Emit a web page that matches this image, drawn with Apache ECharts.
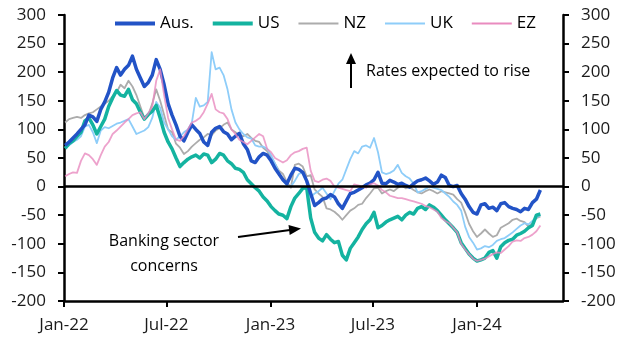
<!DOCTYPE html>
<html>
<head>
<meta charset="utf-8">
<script src="https://cdn.jsdelivr.net/npm/echarts@6/dist/echarts.min.js"></script>
<style>
  html, body { margin: 0; padding: 0; background: #fff; }
  #chart { width: 631px; height: 350px; }
</style>
</head>
<body>
<div id="chart"></div>
<script>
// weekly readings, first week starts 3 Jan 2022
const firstWeek = '2022-01-03'
const weekCount = 121

const aus = [72, 78, 85, 92, 100, 108, 125, 122, 114, 135, 148, 165, 190, 208, 195, 205, 212, 228, 205, 190,
  175, 182, 195, 222, 205, 178, 145, 125, 108, 88, 80, 95, 108, 100, 93, 78, 72, 95, 102, 105,
  96, 92, 82, 88, 93, 75, 65, 45, 42, 52, 58, 55, 45, 32, 22, 12, 5, 20, 32, 30,
  25, 10, -12, -33, -28, -22, -20, -14, -18, -30, -38, -25, -12, -10, -6, -2, 3, 6, 12, 25,
  6, 5, 11, 8, 4, 6, 2, -1, 5, 10, 12, 15, 10, 4, 8, 20, 16, 2, 0, 2,
  -12, -22, -35, -45, -48, -32, -30, -38, -36, -42, -30, -28, -35, -38, -40, -44, -38, -40, -28, -22, -6]

const us = [67, 75, 80, 88, 95, 115, 120, 108, 92, 105, 118, 140, 155, 168, 160, 158, 170, 152, 145, 130,
  118, 126, 132, 142, 120, 95, 78, 66, 50, 35, 42, 48, 52, 55, 50, 57, 55, 42, 48, 58,
  55, 45, 40, 32, 30, 25, 12, 5, -2, -8, -18, -25, -35, -42, -48, -50, -56, -35, -20, -12,
  -3, -2, -55, -80, -90, -95, -84, -92, -98, -96, -120, -128, -108, -98, -88, -75, -65, -58, -45, -72,
  -68, -62, -58, -55, -52, -58, -50, -45, -48, -38, -35, -40, -32, -36, -42, -50, -58, -65, -72, -80,
  -98, -108, -118, -125, -130, -128, -125, -115, -112, -125, -105, -98, -94, -92, -85, -82, -78, -72, -68, -50, -48]

const nz = [112, 118, 120, 122, 120, 125, 128, 130, 135, 140, 145, 150, 158, 165, 178, 172, 185, 175, 160, 140,
  120, 125, 145, 170, 150, 125, 100, 95, 75, 68, 57, 62, 70, 76, 82, 86, 92, 90, 98, 102,
  108, 112, 100, 95, 90, 88, 92, 85, 80, 78, 68, 62, 52, 40, 28, 22, 8, -2, 38, 40,
  35, 18, 20, -5, -12, -18, -38, -40, -44, -50, -58, -50, -42, -38, -32, -30, -20, -12, -3, -2,
  -12, -8, -5, -8, -2, 2, -3, -1, -6, -10, -12, -8, -5, -8, -12, -8, -10, -12, -14, -22,
  -28, -45, -65, -78, -88, -82, -75, -82, -88, -85, -72, -68, -64, -58, -56, -60, -62, -70, -64, -55, -52]

const uk = [68, 72, 78, 82, 88, 105, 108, 95, 76, 98, 104, 102, 106, 110, 112, 115, 118, 105, 92, 95,
  98, 104, 120, 148, 138, 112, 100, 88, 82, 88, 95, 100, 112, 155, 140, 142, 148, 235, 205, 208,
  195, 170, 135, 112, 100, 92, 86, 84, 72, 70, 70, 66, 55, 40, 25, 10, 2, 0, 10, 22,
  25, 8, -18, -12, -8, -2, -12, -22, -8, 5, 12, 30, 48, 62, 58, 70, 72, 68, 85, 60,
  25, 22, 24, 28, 38, 24, 18, 14, 5, -10, -8, -4, 0, -2, -4, -6, -12, -18, -26, -32,
  -42, -70, -88, -98, -110, -108, -104, -106, -102, -95, -92, -90, -85, -80, -74, -68, -64, -66, -60, -54, -50]

const ez = [18, 22, 25, 24, 45, 58, 55, 48, 38, 55, 70, 78, 92, 98, 105, 112, 118, 125, 128, 130,
  118, 128, 140, 185, 205, 160, 120, 100, 82, 80, 88, 100, 112, 115, 120, 130, 145, 162, 135, 130,
  128, 118, 100, 92, 82, 78, 74, 80, 86, 92, 88, 66, 60, 50, 46, 42, 46, 55, 60, 62,
  66, 68, 28, 10, 8, 12, 14, 10, 0, -2, -4, -6, -8, 4, 2, 0, -2, 4, 6, 2,
  -6, -10, -16, -18, -20, -20, -22, -24, -26, -28, -30, -34, -36, -40, -44, -55, -60, -64, -72, -80,
  -100, -110, -118, -126, -130, -128, -126, -122, -118, -115, -116, -110, -104, -96, -94, -95, -90, -88, -84, -78, -68]

const xTickDates = ['2022-01-01', '2022-07-01', '2023-01-01', '2023-07-01', '2024-01-01']
const monthNames = ['Jan', 'Feb', 'Mar', 'Apr', 'May', 'Jun', 'Jul', 'Aug', 'Sep', 'Oct', 'Nov', 'Dec']

const FONT = 'Open Sans'
const THICK = 'path://M0,0h40v4h-40z'
const THIN = 'path://M0,0h40v1.8h-40z'

// local-time date helper
function toTime(str) {
  const p = str.split('-').map(Number)
  return new Date(p[0], p[1] - 1, p[2]).getTime()
}

const weeks = []
for (let i = 0; i < weekCount; i++) {
  const d = new Date(toTime(firstWeek))
  d.setDate(d.getDate() + i * 7)
  weeks.push(d.getTime())
}
const pairs = (vals) => vals.map((v, i) => [weeks[i], v])

const chart = echarts.init(document.getElementById('chart'))

const yAxisBase = {
  type: 'value',
  min: -200,
  max: 300,
  interval: 50,
  splitLine: { show: false },
  axisLine: { show: true, lineStyle: { color: '#000', width: 2.5 } },
  axisTick: { show: true, length: 6, lineStyle: { color: '#000', width: 2 } },
  axisLabel: { color: '#1a1a1a', fontSize: 17, fontFamily: FONT, margin: 18 }
}

const lineSeries = (name, data, color, width, opacity) => ({
  name,
  type: 'line',
  data: pairs(data),
  showSymbol: false,
  symbol: 'none',
  silent: true,
  lineStyle: { color, width, opacity: opacity || 1, join: 'round' },
  itemStyle: { color }
})

const colors = {
  aus: '#2253c6',
  us: '#14b3a0',
  nz: '#acacac',
  uk: '#8ecdf9',
  ez: '#e98bbf'
}

const nzSeries = lineSeries('NZ', nz, colors.nz, 1.8)
// zero line
nzSeries.markLine = {
  silent: true,
  symbol: 'none',
  label: { show: false },
  lineStyle: { color: '#000', width: 2.5, type: 'solid' },
  data: [{ yAxis: 0 }]
}

const tickValues = xTickDates.map(toTime)

const options = {
  animation: false,
  grid: { left: 64, right: 68, top: 15, bottom: 49 },
  legend: {
    top: 10,
    left: 110,
    itemWidth: 40,
    itemHeight: 18,
    itemGap: 19,
    textStyle: { color: '#000', fontSize: 17, fontFamily: FONT },
    data: [
      { name: 'Aus.', icon: THICK, itemStyle: { color: colors.aus } },
      { name: 'US', icon: THICK, itemStyle: { color: colors.us } },
      { name: 'NZ', icon: THIN, itemStyle: { color: colors.nz } },
      { name: 'UK', icon: THIN, itemStyle: { color: colors.uk } },
      { name: 'EZ', icon: THIN, itemStyle: { color: colors.ez } }
    ]
  },
  xAxis: {
    type: 'value',
    min: toTime('2022-01-01'),
    max: toTime('2024-06-01'),
    splitLine: { show: false },
    axisLine: { onZero: false, lineStyle: { color: '#000', width: 2.5 } },
    axisTick: {
      show: true,
      length: 6,
      lineStyle: { color: '#000', width: 2 },
      customValues: tickValues
    },
    axisLabel: {
      color: '#1a1a1a',
      fontSize: 17,
      fontFamily: FONT,
      margin: 16,
      customValues: tickValues,
      formatter: (v) => {
        const d = new Date(v)
        return monthNames[d.getMonth()] + '-' + String(d.getFullYear()).slice(2)
      }
    }
  },
  yAxis: [
    Object.assign({}, yAxisBase, { position: 'left' }),
    Object.assign({}, yAxisBase, { position: 'right' })
  ],
  series: [
    nzSeries,
    lineSeries('UK', uk, colors.uk, 1.8),
    lineSeries('US', us, colors.us, 3.5),
    lineSeries('Aus.', aus, colors.aus, 3.5),
    lineSeries('EZ', ez, colors.ez, 1.8, 0.8)
  ],
  graphic: [
    // rates arrow
    { type: 'line', shape: { x1: 351, y1: 88, x2: 351, y2: 62 }, style: { stroke: '#000', lineWidth: 2 } },
    { type: 'polygon', shape: { points: [[351, 53], [346, 64], [356, 64]] }, style: { fill: '#000' } },
    {
      type: 'text',
      x: 366,
      y: 71,
      style: { text: 'Rates expected to rise', fontSize: 16, fontFamily: FONT, fill: '#000', verticalAlign: 'middle' }
    },
    // banking sector note
    {
      type: 'text',
      x: 164,
      y: 229,
      style: {
        text: 'Banking sector\nconcerns',
        fontSize: 16,
        fontFamily: FONT,
        fill: '#000',
        align: 'center',
        verticalAlign: 'top',
        lineHeight: 25
      }
    },
    { type: 'line', shape: { x1: 238, y1: 237, x2: 290, y2: 230 }, style: { stroke: '#000', lineWidth: 2 } },
    { type: 'polygon', shape: { points: [[301, 228.5], [289.7, 235], [288.5, 225]] }, style: { fill: '#000' } }
  ]
}

chart.setOption(options)
</script>
</body>
</html>
